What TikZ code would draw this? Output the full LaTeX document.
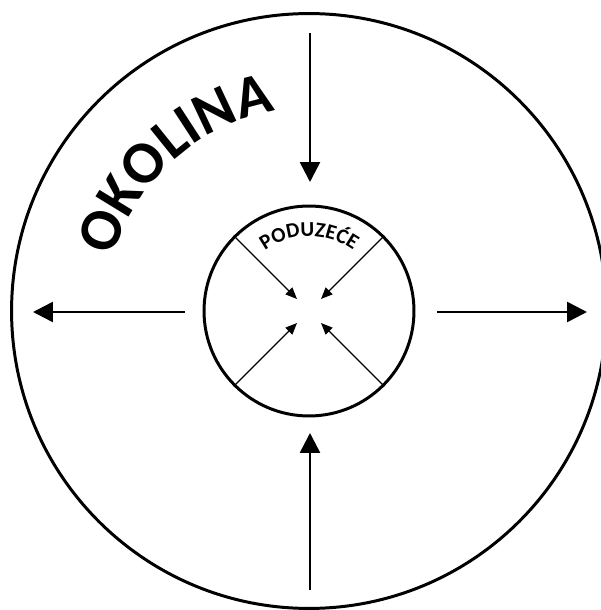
\documentclass[tikz,border=0pt]{standalone}
\usepackage{fontspec}
\setmainfont{Carlito}
\usetikzlibrary{arrows.meta, decorations.text}
\tikzset{
  ring/.style      ={draw, circle, line width=1.7pt, inner sep=0pt},
  bigarrow/.style  ={-{Triangle[length=4mm,width=4mm]}, line width=1.5pt},
  smallarrow/.style={-{Triangle[length=2.3mm,width=1.9mm]}, line width=0.8pt},
  arctext/.style   ={decorate, decoration={text along path, text align=center, text={#1}}}
}

\begin{document}
\begin{tikzpicture}[x=0.02cm, y=0.02cm]
  \useasboundingbox (0,0) rectangle (600,610);

  % Okolina
  \node[ring, minimum size=11.9cm] (okolina) at (309,299) {};
  \path[arctext={|\fontsize{34}{34}\selectfont\bfseries|OKOLINA}]
    (okolina.center) ++(178:4.05cm) arc[start angle=178, end angle=86, radius=4.05cm];

  % Poduzece
  \node[ring, minimum size=4.2cm] (poduzece) at (309,299) {};
  \path[arctext={|\fontsize{12}{12}\selectfont\bfseries|PODUZEĆE}]
    (poduzece.center) ++(140:1.5cm) arc[start angle=140, end angle=40, radius=1.5cm];

  % vanjske strelice
  \coordinate (top-a) at (310,577);  \coordinate (top-b) at (310,428);
  \coordinate (bot-a) at (310,20);   \coordinate (bot-b) at (310,177);
  \coordinate (lft-a) at (185,298);  \coordinate (lft-b) at (33,298);
  \coordinate (rgt-a) at (437,298);  \coordinate (rgt-b) at (587,298);
  \draw[bigarrow] (top-a) -- (top-b);
  \draw[bigarrow] (bot-a) -- (bot-b);
  \draw[bigarrow] (lft-a) -- (lft-b);
  \draw[bigarrow] (rgt-a) -- (rgt-b);

  % unutarnje strelice
  \coordinate (tip-nw) at (297,311); \coordinate (tip-ne) at (321,311);
  \coordinate (tip-sw) at (297,287); \coordinate (tip-se) at (321,287);
  \draw[smallarrow] (poduzece.135) -- (tip-nw);
  \draw[smallarrow] (poduzece.45)  -- (tip-ne);
  \draw[smallarrow] (poduzece.225) -- (tip-sw);
  \draw[smallarrow] (poduzece.315) -- (tip-se);
\end{tikzpicture}
\end{document}
